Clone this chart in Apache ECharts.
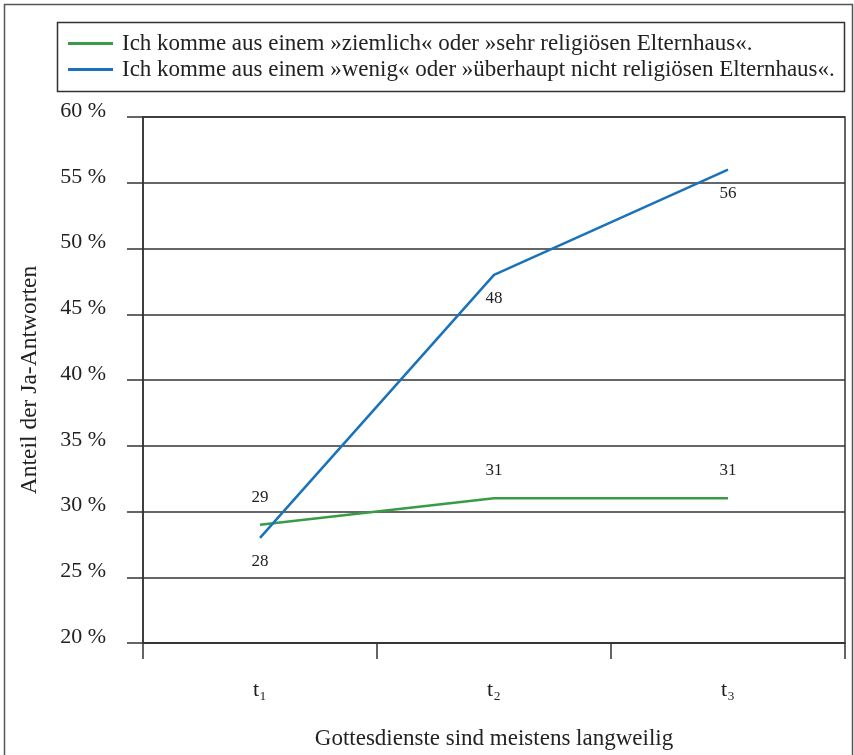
<!DOCTYPE html>
<html><head><meta charset="utf-8">
<script src="https://cdn.jsdelivr.net/npm/echarts@6/dist/echarts.min.js"></script>
<style>html,body{margin:0;padding:0;background:#fff}#c{width:854px;height:755px}</style>
</head><body><div id="c"></div>
<script>
var categories = ['t\u2081', 't\u2082', 't\u2083'];
var seriesNames = ['Ich komme aus einem \u00bbziemlich\u00ab oder \u00bbsehr religi\u00f6sen Elternhaus\u00ab.',
                   'Ich komme aus einem \u00bbwenig\u00ab oder \u00bb\u00fcberhaupt nicht religi\u00f6sen Elternhaus\u00ab.'];
var religious = [29, 31, 31];
var nonReligious = [28, 48, 56];
var yTicks = [20, 25, 30, 35, 40, 45, 50, 55, 60];

var FONT = '"Liberation Serif", "DejaVu Serif", serif';
var chart = echarts.init(document.getElementById('c'), null, {renderer: 'canvas', width: 854, height: 755});
chart.setOption({
  backgroundColor: '#fff',
  animation: false,
  textStyle: {fontFamily: FONT, color: '#222'},
  graphic: [
    {type: 'rect', shape: {x: 4.5, y: 4.5, width: 848, height: 800}, style: {fill: 'none', stroke: '#555', lineWidth: 1.5}, silent: true},
    {type: 'rect', shape: {x: 57.5, y: 22.5, width: 787, height: 69}, style: {fill: 'none', stroke: '#333', lineWidth: 1.5}, silent: true}
  ],
  legend: {
    left: 68, top: 32, orient: 'vertical', padding: 0,
    icon: 'rect', itemWidth: 45, itemHeight: 3, itemGap: 3,
    textStyle: {fontFamily: FONT, fontSize: 23, lineHeight: 23, color: '#222', padding: [0, 0, 0, 4]},
    data: seriesNames
  },
  grid: {left: 143, width: 702, top: 117, height: 529, show: true, borderColor: '#333', borderWidth: 1.5},
  xAxis: {
    type: 'category', data: categories, boundaryGap: true,
    name: 'Gottesdienste sind meistens langweilig', nameLocation: 'middle', nameGap: 84,
    nameTextStyle: {fontFamily: FONT, fontSize: 23, color: '#222'},
    axisLine: {lineStyle: {color: '#333', width: 1.5}},
    axisTick: {show: true, length: 16, lineStyle: {color: '#333', width: 1.5}},
    axisLabel: {fontFamily: FONT, fontSize: 22, color: '#222', margin: 36}
  },
  yAxis: {
    type: 'value', min: 20, max: 60, interval: 5,
    name: 'Anteil der Ja-Antworten', nameLocation: 'middle', nameGap: 101,
    nameTextStyle: {fontFamily: FONT, fontSize: 23.5, color: '#222'},
    axisLine: {show: true, lineStyle: {color: '#333', width: 1.5}},
    axisTick: {show: true, length: 16, lineStyle: {color: '#333', width: 1.5}},
    splitLine: {show: true, lineStyle: {color: '#333', width: 1.5}},
    axisLabel: {fontFamily: FONT, fontSize: 22, color: '#222', margin: 37, verticalAlign: 'bottom', lineHeight: 12,
      formatter: function (v) { return yTicks.indexOf(v) >= 0 ? v + ' %' : ''; }}
  },
  series: [
    {name: seriesNames[0], type: 'line', data: religious, color: '#3a9b47',
     symbol: 'circle', symbolSize: 0, showSymbol: true,
     lineStyle: {width: 2.5, color: '#3a9b47'},
     label: {show: true, position: 'top', distance: 19, fontFamily: FONT, fontSize: 17, color: '#222'}},
    {name: seriesNames[1], type: 'line', data: nonReligious, color: '#1a73ba',
     symbol: 'circle', symbolSize: 0, showSymbol: true,
     lineStyle: {width: 2.5, color: '#1a73ba'},
     label: {show: true, position: 'bottom', distance: 15, fontFamily: FONT, fontSize: 17, color: '#222'}}
  ]
});
</script></body></html>
